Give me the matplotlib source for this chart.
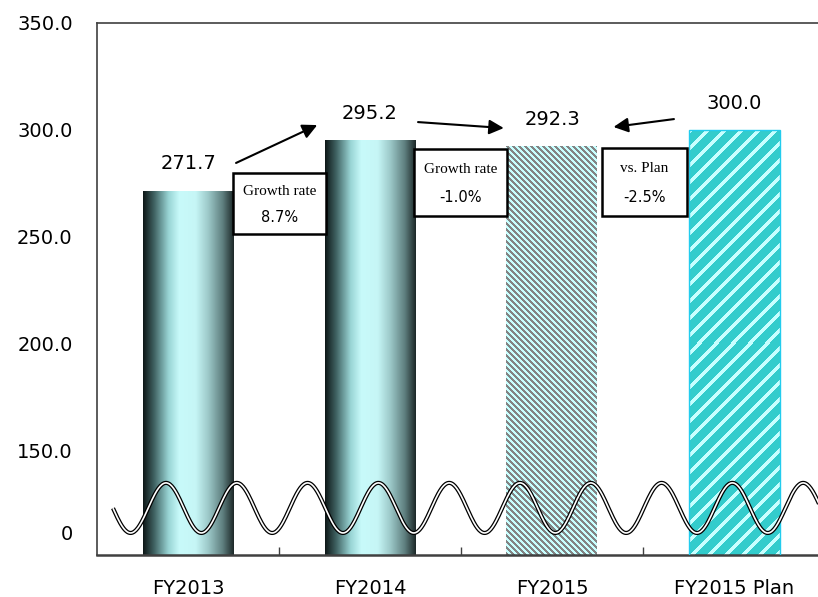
import matplotlib
matplotlib.use("Agg")
import matplotlib.pyplot as plt
import numpy as np
from matplotlib.colors import LinearSegmentedColormap, ListedColormap
from matplotlib.patches import Rectangle

# data
categories = ["FY2013", "FY2014", "FY2015", "FY2015 Plan"]
values = [271.7, 295.2, 292.3, 300.0]
value_labels = ["271.7", "295.2", "292.3", "300.0"]
ytick_vals = [111.7, 150, 200, 250, 300, 350]
ytick_labels = ["0", "150.0", "200.0", "250.0", "300.0", "350.0"]
box_titles = ["Growth rate", "Growth rate", "vs. Plan"]
box_rates = ["8.7%", "-1.0%", "-2.5%"]

plt.rcParams["font.family"] = ["DejaVu Sans"]

fig = plt.figure(figsize=(8.18, 5.97), dpi=100)
ax = fig.add_axes([97 / 818, 1 - 555 / 597, 728 / 818, 532 / 597])
ymin, ymax = 101.4, 350
ax.set_xlim(-0.5, 3.5)
ax.set_ylim(ymin, ymax)

x = np.arange(len(categories))
w = 0.5


def stripe_fill(patch, xc, top, period, band, c_band, c_back, up_right):
    # striped image clipped to the bar, built at screen resolution
    (px0, py0), (px1, py1) = ax.transData.transform([(xc - w / 2, ymin), (xc + w / 2, top)])
    nw, nh = int(round(px1 - px0)), int(round(py1 - py0))
    cols, rows = np.meshgrid(np.arange(nw), np.arange(nh))
    k = cols + rows if up_right else cols - rows
    arr = (k % period < band).astype(float)
    im = ax.imshow(arr, cmap=ListedColormap([c_back, c_band]), vmin=0, vmax=1,
                   aspect="auto", interpolation="nearest", zorder=2,
                   extent=[xc - w / 2, xc + w / 2, ymin, top])
    im.set_clip_path(patch)


# gradient bars (FY2013, FY2014)
grad = LinearSegmentedColormap.from_list("g", [
    (0.0, "#0e1717"), (0.12, "#3f6161"), (0.28, "#98d4d4"), (0.40, "#c8fafa"),
    (0.58, "#c6f6f6"), (0.72, "#9cc8c8"), (0.88, "#5e7e7e"), (1.0, "#1c2828")])
gimg = np.linspace(0, 1, 256).reshape(1, -1)
for i in range(2):
    b = ax.bar(x[i], values[i], w, color="none", linewidth=0, zorder=2)[0]
    im = ax.imshow(gimg, cmap=grad, aspect="auto", zorder=2,
                   extent=[x[i] - w / 2, x[i] + w / 2, ymin, values[i]])
    im.set_clip_path(b)

# FY2015 striped bar (grey / light cyan)
b3 = ax.bar(x[2], values[2], w, color="none", linewidth=0, zorder=2)[0]
stripe_fill(b3, x[2], values[2], 6, 3, "#848484", "#c8ffff", up_right=False)

# FY2015 Plan striped bar (teal / light cyan)
b4 = ax.bar(x[3], values[3], w, color="none", linewidth=0, zorder=2)[0]
stripe_fill(b4, x[3], values[3], 17, 5, "#c8ffff", "#33cccc", up_right=True)
ax.bar(x[3], values[3], w, color="none", edgecolor="#22ccee", linewidth=1, zorder=3)

ax.set_xlim(-0.5, 3.5)
ax.set_ylim(ymin, ymax)

# value labels
for i, v in enumerate(values):
    ax.text(x[i], v + 12.5, value_labels[i], ha="center", va="center", fontsize=14)

# boxes between bars
box_x = [(0.247, 0.758), (1.242, 1.753), (2.275, 2.742)]
box_y = [(251.4, 279.9), (259.8, 291.1), (259.8, 291.6)]
for k in range(3):
    x0, x1 = box_x[k]
    y0, y1 = box_y[k]
    ax.add_patch(Rectangle((x0, y0), x1 - x0, y1 - y0, facecolor="white",
                           edgecolor="black", linewidth=1.8, zorder=5))
    cx = (x0 + x1) / 2
    ax.text(cx, y1 - (y1 - y0) * 0.3, box_titles[k], ha="center", va="center",
            fontsize=11, family="Liberation Serif", zorder=6)
    ax.text(cx, y0 + (y1 - y0) * 0.27, box_rates[k], ha="center", va="center",
            fontsize=10.5, zorder=6)

# arrows
arrows = [((0.264, 284.6), (0.71, 302.3)),
          ((1.264, 303.7), (1.735, 300.9)),
          ((2.670, 305.1), (2.338, 301.4))]
for start, end in arrows:
    ax.annotate("", xy=end, xytext=start,
                arrowprops=dict(arrowstyle="-|>", color="black", lw=1.5,
                                mutation_scale=22, shrinkA=0, shrinkB=0),
                zorder=6)

# axis break wave
wx = np.linspace(-0.412, 3.5, 800)
wy = 123.4 + 11.7 * np.sin(2 * np.pi * (wx + 0.121) / 0.389 + np.pi / 2)
ax.plot(wx, wy, color="black", lw=3.0, zorder=4, solid_capstyle="butt", clip_on=False)
ax.plot(wx, wy, color="white", lw=1.2, zorder=4, solid_capstyle="butt", clip_on=False)

# axes styling
ax.set_yticks(ytick_vals)
ax.set_yticklabels(ytick_labels, fontsize=14)
ax.tick_params(axis="y", length=0, pad=17.5)
ax.set_xticks(x)
ax.set_xticklabels(categories, fontsize=14)
ax.tick_params(axis="x", which="major", length=0, pad=17)
ax.set_xticks([0.5, 1.5, 2.5], minor=True)
ax.tick_params(axis="x", which="minor", direction="in", length=6, width=1, color="#404040")
for s in ["left", "top", "bottom", "right"]:
    ax.spines[s].set_color("#404040")
ax.spines["bottom"].set_linewidth(1.8)
ax.spines["left"].set_linewidth(1.2)
ax.spines["top"].set_linewidth(1.2)

fig.savefig("out.png", dpi=100)
